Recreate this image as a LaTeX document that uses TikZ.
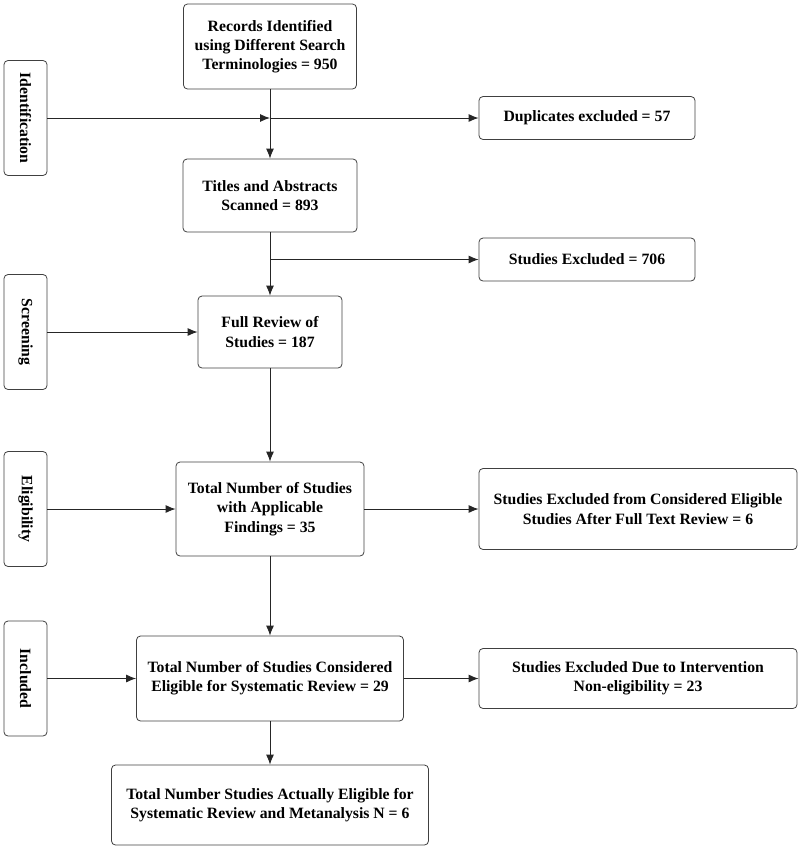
\documentclass[tikz,border=0pt]{standalone}
\usepackage{fontspec}
\setmainfont{Liberation Serif}
\usetikzlibrary{arrows.meta}
\begin{document}
\begin{tikzpicture}[x=0.75pt,y=-0.75pt,
  box/.style={draw=black!75,line width=0.6pt,rounded corners=3pt,align=center,inner sep=2pt,
    font=\fontsize{11.8pt}{14.4pt}\selectfont\bfseries},
  phase/.style={box,rotate=-90,minimum width=86.25pt,minimum height=32.25pt},
  conn/.style={line width=0.7pt,draw=black!85},
  arr/.style={conn,-{Latex[length=7.5pt,width=6pt]}}]
\useasboundingbox (0,0) rectangle (800,851);
\node[box,minimum width=129.75pt,minimum height=63.75pt] (rec) at (270,46.5) {Records Identified\\using Different Search\\Terminologies = 950};
\node[box,minimum width=162pt,minimum height=32.25pt] (dup) at (587,118) {Duplicates excluded = 57};
\node[box,minimum width=130.5pt,minimum height=54.75pt] (tit) at (270,195.5) {Titles and Abstracts\\Scanned = 893};
\node[box,minimum width=162pt,minimum height=32.25pt] (exc1) at (587,259.5) {Studies Excluded = 706};
\node[box,minimum width=108pt,minimum height=54pt] (full) at (270,332) {Full Review of\\Studies = 187};
\node[box,minimum width=141pt,minimum height=70.5pt] (tot) at (270,509) {Total Number of Studies\\with Applicable\\Findings = 35};
\node[box,minimum width=238.5pt,minimum height=60.75pt] (exc2) at (638,509) {Studies Excluded from Considered Eligible\\Studies After Full Text Review = 6};
\node[box,minimum width=200.25pt,minimum height=63.75pt] (cons) at (270,678.5) {Total Number of Studies Considered\\Eligible for Systematic Review = 29};
\node[box,minimum width=238.5pt,minimum height=45pt] (exc3) at (638,678.5) {Studies Excluded Due to Intervention\\Non-eligibility = 23};
\node[box,minimum width=237.75pt,minimum height=60pt] (fin) at (270,805) {Total Number Studies Actually Eligible for\\Systematic Review and Metanalysis N = 6};
\node[phase] (p1) at (25.5,118) {Identification};
\node[phase] (p2) at (25.5,332) {Screening};
\node[phase] (p3) at (25.5,509) {Eligibility};
\node[phase] (p4) at (25.5,678.5) {Included};
\coordinate (j1) at (270,118);
\coordinate (j2) at (270,259.5);
\draw[arr] (p1.north) -- (j1);
\draw[arr] (j1) -- (dup.west);
\draw[arr] (rec.south) -- (tit.north);
\draw[conn] (tit.south) -- (j2);
\draw[arr] (j2) -- (full.north);
\draw[arr] (j2) -- (exc1.west);
\draw[arr] (p2.north) -- (full.west);
\draw[arr] (full.south) -- (tot.north);
\draw[arr] (p3.north) -- (tot.west);
\draw[arr] (tot.east) -- (exc2.west);
\draw[arr] (tot.south) -- (cons.north);
\draw[arr] (p4.north) -- (cons.west);
\draw[arr] (cons.east) -- (exc3.west);
\draw[arr] (cons.south) -- (fin.north);
\end{tikzpicture}
\end{document}
